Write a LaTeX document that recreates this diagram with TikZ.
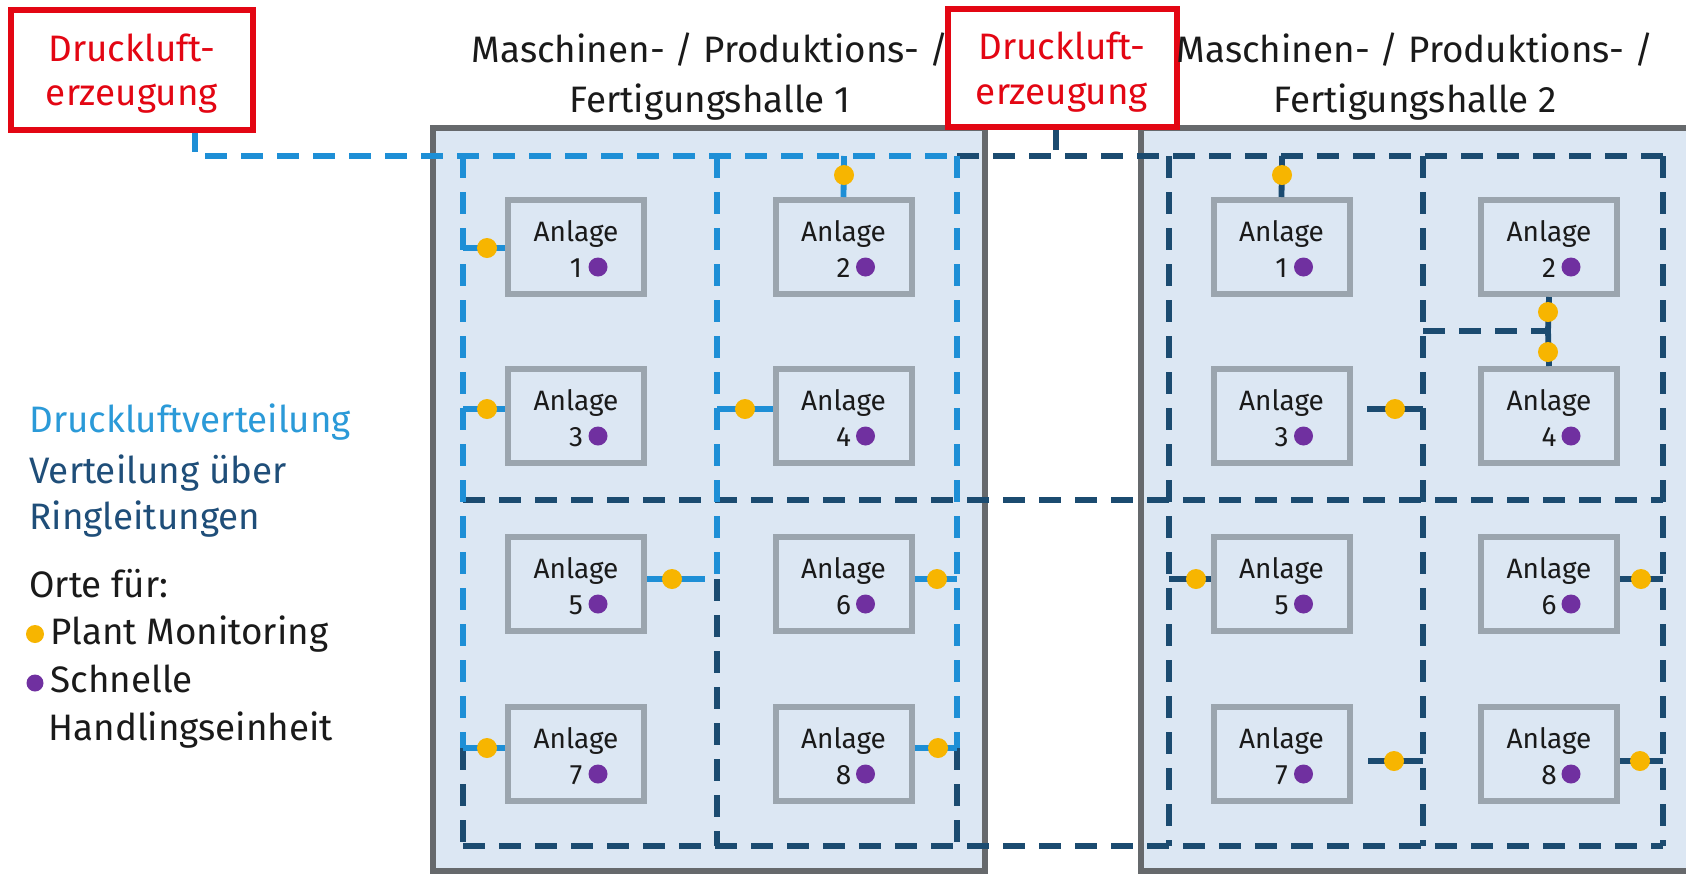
\documentclass[tikz,border=0pt]{standalone}
\usepackage{fontspec}
\setmainfont{Fira Sans}
\definecolor{redc}{HTML}{E30613}
\definecolor{lblue}{HTML}{1E8FD6}
\definecolor{dblue}{HTML}{1B4B70}
\definecolor{hallfill}{HTML}{DCE7F3}
\definecolor{hallborder}{HTML}{66696C}
\definecolor{boxborder}{HTML}{9BA5AE}
\definecolor{yellowc}{HTML}{F7B500}
\definecolor{purplec}{HTML}{7030A0}
\definecolor{ltext}{HTML}{2B9AD8}
\definecolor{dtext}{HTML}{1F4E79}
\definecolor{ttext}{HTML}{1A1A1A}
\begin{document}
\begin{tikzpicture}[x=0.5pt,y=-0.5pt,
  hall/.style={fill=hallfill,draw=hallborder,line width=2.8pt},
  anlage/.style={draw=boxborder,line width=3pt,fill=hallfill,minimum width=68pt,minimum height=47pt,inner sep=0pt},
  redbox/.style={draw=redc,line width=3.2pt,fill=white},
  lpipe/.style={draw=lblue,line width=2.9pt,dash pattern=on 11pt off 7pt},
  dpipe/.style={draw=dblue,line width=2.9pt,dash pattern=on 11pt off 7pt},
  lbranch/.style={draw=lblue,line width=2.9pt},
  dbranch/.style={draw=dblue,line width=2.9pt},
  pm/.style={circle,fill=yellowc,minimum size=10pt,inner sep=0pt},
  sh/.style={circle,fill=purplec,minimum size=9.5pt,inner sep=0pt},
  big/.style={font=\fontsize{18.4}{23}\selectfont,inner sep=0pt},
  small/.style={font=\fontsize{14}{17}\selectfont,inner sep=0pt,text=ttext},
]
\useasboundingbox (0,0) rectangle (1686,874);
\clip (0,0) rectangle (1686,874);
\fill[white] (0,0) rectangle (1686,874);
% halls
\draw[hall] (433,128) rectangle (985,871);
\draw[hall] (1141,128) rectangle (1740,871);
% coordinates of the ring network
\coordinate (g1) at (195,130);
\coordinate (g1c) at (195,156);
\coordinate (t1) at (463,156);
\coordinate (t2) at (717,156);
\coordinate (t3) at (957,156);
\coordinate (t4) at (1169,156);
\coordinate (t5) at (1423,156);
\coordinate (t6) at (1663,156);
\coordinate (m1) at (463,500);
\coordinate (m6) at (1663,500);
\coordinate (b1) at (463,846);
\coordinate (b2) at (717,846);
\coordinate (b3) at (957,846);
\coordinate (b4) at (1169,846);
\coordinate (b5) at (1423,846);
\coordinate (b6) at (1663,846);
\coordinate (v1) at (463,748);
\coordinate (v2) at (717,579);
\coordinate (v3) at (957,748);
\coordinate (r1) at (1423,331);
\coordinate (r2) at (1548,331);
% dark ring
\draw[dpipe] (t3) -- (t6);
\draw[dpipe] (m1) -- (m6);
\draw[dpipe] (b1) -- (b6);
\draw[dpipe] (v1) -- (b1);
\draw[dpipe] (v2) -- (b2);
\draw[dpipe] (v3) -- (b3);
\draw[dpipe] (t4) -- (b4);
\draw[dpipe] (t5) -- (b5);
\draw[dpipe] (t6) -- (b6);
\draw[dpipe] (r1) -- (r2);
% light ring
\draw[lpipe] (g1) -- (g1c) -- (t3);
\draw[lpipe] (t1) -- (v1);
\draw[lpipe] (t2) -- (v2);
\draw[lpipe] (t3) -- (v3);
% boxes
\foreach \n/\cx/\tp/\num in {h1a/576/197/1,h1b/843.5/197/2,h1c/576/366/3,h1d/843.5/366/4,h1e/576/534/5,h1f/843.5/534/6,h1g/576/704/7,h1h/843.5/704/8,
  h2a/1281.5/197/1,h2b/1549/197/2,h2c/1281.5/366/3,h2d/1549/366/4,h2e/1281.5/534/5,h2f/1549/534/6,h2g/1281.5/704/7,h2h/1549/704/8}{
  \node[anlage] (\n) at (\cx,\tp+50) {};
  \node[small,anchor=base] (\n-t) at (\cx,\tp+44) {Anlage};
  \node[small,anchor=base] (\n-n) at (\cx,\tp+80) {\num};
  \node[sh] (\n-s) at (\cx+22,\tp+70) {};
}
% branches hall 1
\draw[lbranch] (463,248) -- (h1a.west |- 0,248);
\node[pm] (y1a) at (487,248) {};
\draw[lbranch] (844,156) -- (h1b.north);
\node[pm] (y1b) at (844,175) {};
\draw[lbranch] (463,409) -- (h1c.west |- 0,409);
\node[pm] (y1c) at (487,409) {};
\draw[lbranch] (717,409) -- (h1d.west |- 0,409);
\node[pm] (y1d) at (745,409) {};
\draw[lbranch] (h1e.east |- 0,579) -- (705,579);
\node[pm] (y1e) at (672,579) {};
\draw[lbranch] (h1f.east |- 0,579) -- (957,579);
\node[pm] (y1f) at (937,579) {};
\draw[lbranch] (463,748) -- (h1g.west |- 0,748);
\node[pm] (y1g) at (487,748) {};
\draw[lbranch] (h1h.east |- 0,748) -- (957,748);
\node[pm] (y1h) at (938,748) {};
% branches hall 2
\draw[dbranch] (1282,156) -- (h2a.north);
\node[pm] (y2a) at (1282,175) {};
\draw[dbranch] (h2b.south) -- (r2) -- (h2d.north);
\node[pm] (y2b) at (1548,312) {};
\node[pm] (y2d) at (1548,352) {};
\draw[dbranch] (1367,409) -- (1423,409);
\node[pm] (y2c) at (1395,409) {};
\draw[dbranch] (1169,579) -- (h2e.west |- 0,579);
\node[pm] (y2e) at (1196,579) {};
\draw[dbranch] (h2f.east |- 0,579) -- (1663,579);
\node[pm] (y2f) at (1641,579) {};
\draw[dbranch] (1368,761) -- (1423,761);
\node[pm] (y2g) at (1394,761) {};
\draw[dbranch] (h2h.east |- 0,761) -- (1663,761);
\node[pm] (y2h) at (1640,761) {};
% compressed air generation
\draw[redbox] (11,10) rectangle (253,130);
\node[big,text=redc,anchor=base] (e1a) at (132,61) {Druckluft-};
\node[big,text=redc,anchor=base] (e1b) at (132,105) {erzeugung};
\draw[dbranch] (1056,127) -- (1056,150);
\draw[redbox] (948,9) rectangle (1177,127);
\node[big,text=redc,anchor=base] (e2a) at (1062,59) {Druckluft-};
\node[big,text=redc,anchor=base] (e2b) at (1062,104) {erzeugung};
% titles
\node[big,text=ttext,anchor=base] (h1t1) at (710,62) {Maschinen- / Produktions- /};
\node[big,text=ttext,anchor=base] (h1t2) at (710,112) {Fertigungshalle 1};
\node[big,text=ttext,anchor=base] (h2t1) at (1415,62) {Maschinen- / Produktions- /};
\node[big,text=ttext,anchor=base] (h2t2) at (1415,112) {Fertigungshalle 2};
% legend
\node[big,text=ltext,anchor=base west] (l1) at (29,432) {Druckluftverteilung};
\node[big,text=dtext,anchor=base west] (l2) at (29,483) {Verteilung über};
\node[big,text=dtext,anchor=base west] (l3) at (29,529) {Ringleitungen};
\node[big,text=ttext,anchor=base west] (l4) at (29,597) {Orte für:};
\node[pm,minimum size=9pt] (l5d) at (35,634) {};
\node[big,text=ttext,anchor=base west] (l5) at (50,644) {Plant Monitoring};
\node[sh,minimum size=8.5pt] (l6d) at (35,683) {};
\node[big,text=ttext,anchor=base west] (l6) at (50,692) {Schnelle};
\node[big,text=ttext,anchor=base west] (l7) at (48,740) {Handlingseinheit};
\end{tikzpicture}
\end{document}
